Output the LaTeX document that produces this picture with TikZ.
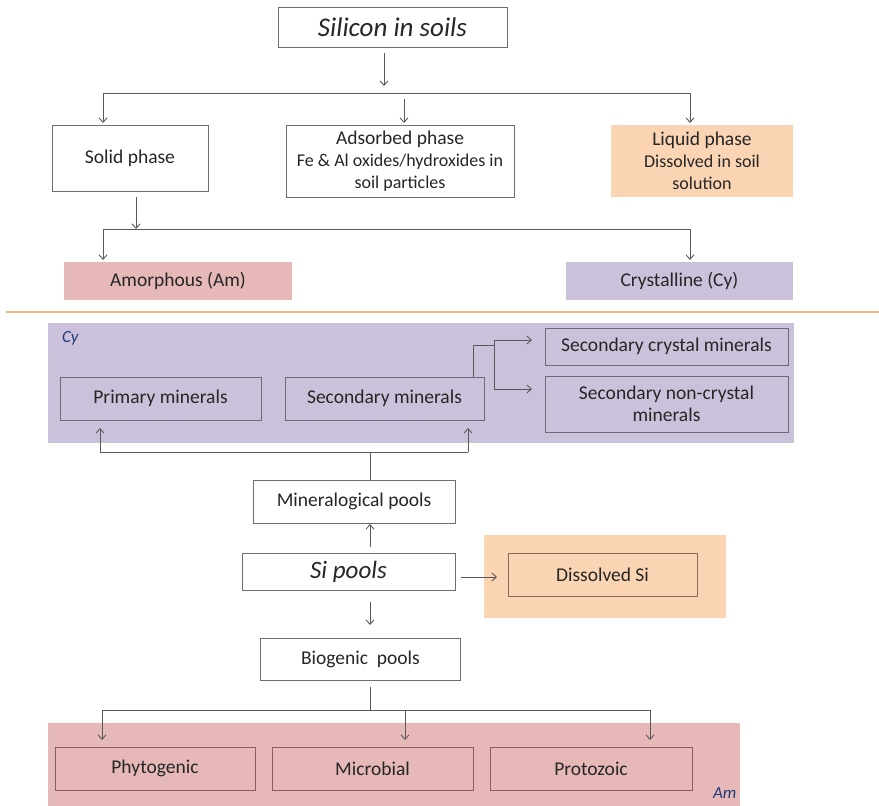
\documentclass[tikz,border=0pt]{standalone}
\usepackage{fontspec}
\setmainfont{Carlito}
\usetikzlibrary{arrows.meta}
\definecolor{linegray}{HTML}{595959}
\definecolor{boxgray}{HTML}{6E6E6E}
\definecolor{txt}{HTML}{262626}
\definecolor{lav}{HTML}{CCC1DA}
\definecolor{pinkam}{HTML}{E6B9B8}
\definecolor{peach}{HTML}{FBD4B4}
\definecolor{sepor}{HTML}{F4B183}
\definecolor{lavedge}{HTML}{6F6A78}
\definecolor{amedge}{HTML}{8C5D5C}
\definecolor{peachedge}{HTML}{8A6A52}
\definecolor{tagblue}{HTML}{1F3A78}
\newcommand{\subf}{\fontsize{18}{22}\selectfont}
\begin{document}
\begin{tikzpicture}[x=1pt,y=-1pt,
  every node/.style={inner sep=0pt,outer sep=0pt,align=center,text=txt,
    font=\fontsize{19.5}{22}\selectfont},
  sized/.style 2 args={minimum width=#1pt,minimum height=#2pt},
  box/.style={draw=boxgray,line width=0.9pt,fill=white},
  tinted/.style={draw=#1,line width=0.9pt},
  panel/.style={fill=#1,draw=none},
  bigit/.style={font=\fontsize{25}{28}\selectfont\itshape},
  tag/.style={text=tagblue,font=\fontsize{17}{20}\selectfont\itshape,anchor=west},
  ln/.style={draw=linegray,line width=0.9pt},
  arr/.style={ln,-{Straight Barb[length=4.5pt,width=8pt]}}]
\useasboundingbox (0,0) rectangle (879,806);

% ---- upper chart ----
\node[box,bigit,font=\fontsize{27}{30}\selectfont\itshape,sized={229}{40}] (top) at (392.5,27) {Silicon in soils};
\node[box,sized={156}{66}] (solid) at (130,158) {Solid phase};
\node[box,sized={228}{72}] (adsorbed) at (400,161)
  {Adsorbed phase\\{\subf Fe \& Al oxides/hydroxides in}\\{\subf soil particles}};
\node[panel=peach,sized={182}{72}] (liquid) at (702,161)
  {Liquid phase\\{\subf Dissolved in soil}\\{\subf solution}};
\node[panel=pinkam,sized={228}{38}] (amorph) at (178,281) {Amorphous (Am)};
\node[panel=lav,sized={227}{38}] (cryst) at (679.5,281) {Crystalline (Cy)};

\coordinate (topS) at (384,53);
\coordinate (topE) at (384,86);
\coordinate (busAL) at (103,93);
\coordinate (busAR) at (690,93);
\coordinate (midS) at (404,99);
\draw[arr] (topS) -- (topE);
\draw[ln] (busAL) -- (busAR);
\draw[arr,shorten >=2pt] (busAL) -- (busAL |- solid.north);
\draw[arr,shorten >=2pt] (midS) -- (midS |- adsorbed.north);
\draw[arr,shorten >=2pt] (busAR) -- (busAR |- liquid.north);

\coordinate (solS) at (136,197);
\coordinate (busBL) at (103,229);
\coordinate (busBR) at (690,229);
\draw[arr] (solS) -- (solS |- busBL);
\draw[ln] (busBL) -- (busBR);
\draw[arr,shorten >=2pt] (busBL) -- (busBL |- amorph.north);
\draw[arr,shorten >=2pt] (busBR) -- (busBR |- cryst.north);

% separator
\coordinate (sepL) at (6,312);
\coordinate (sepR) at (879,312);
\draw[draw=sepor,line width=2.5pt] (sepL) -- (sepR);

% ---- crystalline pools ----
\node[panel=lav,sized={746}{120}] (cypanel) at (421,383) {};
\node[tag] (cytag) at (62,338) {Cy};
\node[tinted=lavedge,sized={201}{43}] (primary) at (160.5,398.5) {Primary minerals};
\node[tinted=lavedge,sized={199}{43}] (secmin) at (384.5,398.5) {Secondary minerals};
\node[tinted=lavedge,sized={243}{37}] (seccry) at (666.5,346.5) {Secondary crystal minerals};
\node[tinted=lavedge,sized={243}{56}] (secnon) at (666.5,404) {Secondary non-crystal\\minerals};

\coordinate (secUp) at (473,345);
\coordinate (brk) at (494,345);
\coordinate (brkT) at (494,340);
\coordinate (brkB) at (494,389);
\draw[ln] (secUp |- secmin.north) -- (secUp) -- (brk);
\draw[ln] (brkT) -- (brkB);
\draw[arr,shorten >=13pt] (brkT) -- (brkT -| seccry.west);
\draw[arr,shorten >=13pt] (brkB) -- (brkB -| secnon.west);

% ---- Si pools ----
\node[box,sized={202}{43}] (minpool) at (354,501.5) {Mineralogical pools};
\node[box,bigit,sized={213}{37}] (sipools) at (348.5,571.5) {Si pools};
\node[panel=peach,sized={242}{83}] (dispanel) at (605,576.5) {};
\node[tinted=peachedge,sized={189}{43}] (dissi) at (602.5,574.5) {Dissolved Si};
\node[box,sized={200}{42}] (bio) at (360.5,659) {Biogenic\ \ pools};

\coordinate (busCL) at (100,452);
\coordinate (busCR) at (468,452);
\coordinate (minUp) at (370,452);
\draw[ln] (minUp |- minpool.north) -- (minUp);
\draw[ln] (busCL) -- (busCR);
\draw[arr,shorten >=8pt] (busCL) -- (busCL |- primary.south);
\draw[arr,shorten >=8pt] (busCR) -- (busCR |- secmin.south);

\draw[arr,shorten <=6pt,shorten >=1pt] (minUp |- sipools.north) -- (minUp |- minpool.south);
\coordinate (rS) at (461,577);
\coordinate (rE) at (497,577);
\draw[arr] (rS) -- (rE);
\draw[arr,shorten <=12pt,shorten >=13pt] (minUp |- sipools.south) -- (minUp |- bio.north);

% ---- amorphous pools ----
\node[panel=pinkam,sized={692}{85}] (ampanel) at (394,765.5) {};
\node[tinted=amedge,sized={200}{43}] (phyto) at (155,768.5) {Phytogenic};
\node[tinted=amedge,sized={201}{43}] (micro) at (372.5,768.5) {Microbial};
\node[tinted=amedge,sized={202}{43}] (proto) at (591,768.5) {Protozoic};
\node[tag] (amtag) at (713,793) {Am};

\coordinate (bioD) at (370,710);
\coordinate (busDL) at (102,710);
\coordinate (busDM) at (405,710);
\coordinate (busDR) at (650,710);
\draw[ln,shorten <=7pt] (bioD |- bio.south) -- (bioD);
\draw[ln] (busDL) -- (busDR);
\draw[arr,shorten >=7pt] (busDL) -- (busDL |- phyto.north);
\draw[arr,shorten >=7pt] (busDM) -- (busDM |- micro.north);
\draw[arr,shorten >=7pt] (busDR) -- (busDR |- proto.north);
\end{tikzpicture}
\end{document}
